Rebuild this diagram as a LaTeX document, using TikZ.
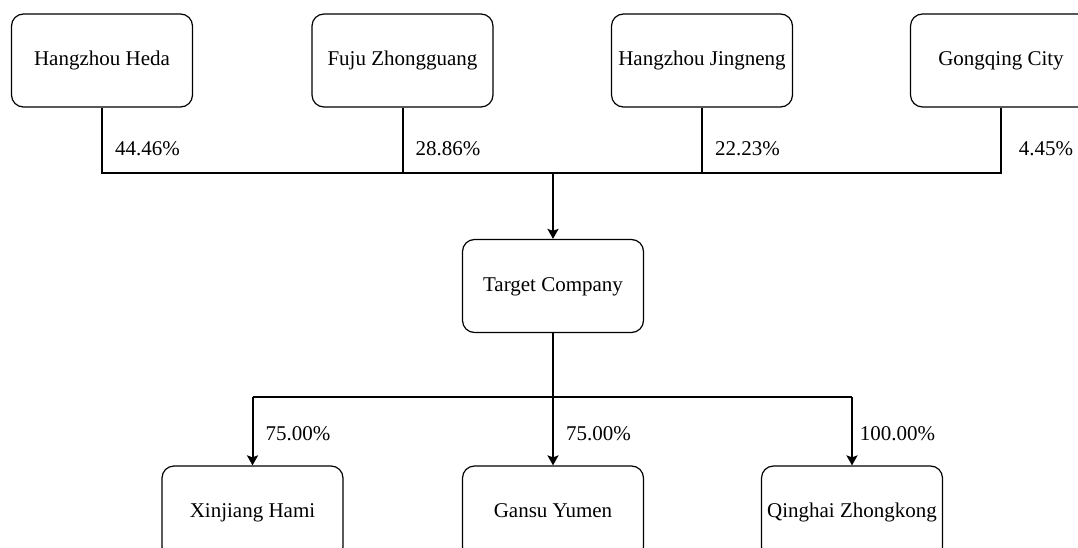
\documentclass[tikz,border=0pt]{standalone}
\usepackage{fontspec}
\setmainfont{Liberation Serif}
\usetikzlibrary{arrows.meta}
\begin{document}
\begin{tikzpicture}[x=1pt,y=-1pt,
  box/.style={draw=black, line width=1.2pt, rounded corners=12pt, minimum width=181pt, minimum height=93pt, inner sep=0pt, text height=15pt, text depth=5pt, fill=white, font=\fontsize{21}{25}\selectfont},
  conn/.style={draw=black, line width=2pt},
  arr/.style={conn, -{Stealth[width=11pt,length=10pt,inset=2pt]}},
  pct/.style={anchor=base, inner sep=0pt, font=\fontsize{21}{25}\selectfont}
]
\useasboundingbox (0,0) rectangle (1078,548);
\clip (0,0) rectangle (1078,548);
\fill[white] (0,0) rectangle (1078,548);

\coordinate (bus) at (0,173);
\coordinate (bus2) at (0,397);

\node[box] (heda) at (102,60.5) {Hangzhou Heda};
\node[box] (fuju) at (402.5,60.5) {Fuju Zhongguang};
\node[box] (jing) at (702,60.5) {Hangzhou Jingneng};
\node[box] (gong) at (1001,60.5) {Gongqing City};
\node[box] (target) at (553,286) {Target Company};
\node[box] (xin) at (252.5,512.5) {Xinjiang Hami};
\node[box] (gansu) at (553,512.5) {Gansu Yumen};
\node[box] (qing) at (852,512.5) {Qinghai Zhongkong};

% top bus
\draw[conn] (heda.south) -- (heda.south |- bus) -- (gong.south |- bus) -- (gong.south);
\draw[conn] (fuju.south) -- (fuju.south |- bus);
\draw[conn] (jing.south) -- (jing.south |- bus);
\draw[arr] (target.north |- bus) -- (target.north);

% bottom bus
\draw[conn] (target.south) -- (target.south |- bus2);
\draw[conn] (xin.north |- bus2) -- (qing.north |- bus2);
\draw[arr] (xin.north |- bus2) -- (xin.north);
\draw[arr] (gansu.north |- bus2) -- (gansu.north);
\draw[arr] (qing.north |- bus2) -- (qing.north);

% labels
\node[pct] (l1) at (147.5,156) {44.46\%};
\node[pct] (l2) at (448,156) {28.86\%};
\node[pct] (l3) at (747.5,156) {22.23\%};
\node[pct] (l4) at (1046,156) {4.45\%};
\node[pct] (l5) at (298,440) {75.00\%};
\node[pct] (l6) at (598.5,440) {75.00\%};
\node[pct] (l7) at (897.5,440) {100.00\%};
\end{tikzpicture}
\end{document}
